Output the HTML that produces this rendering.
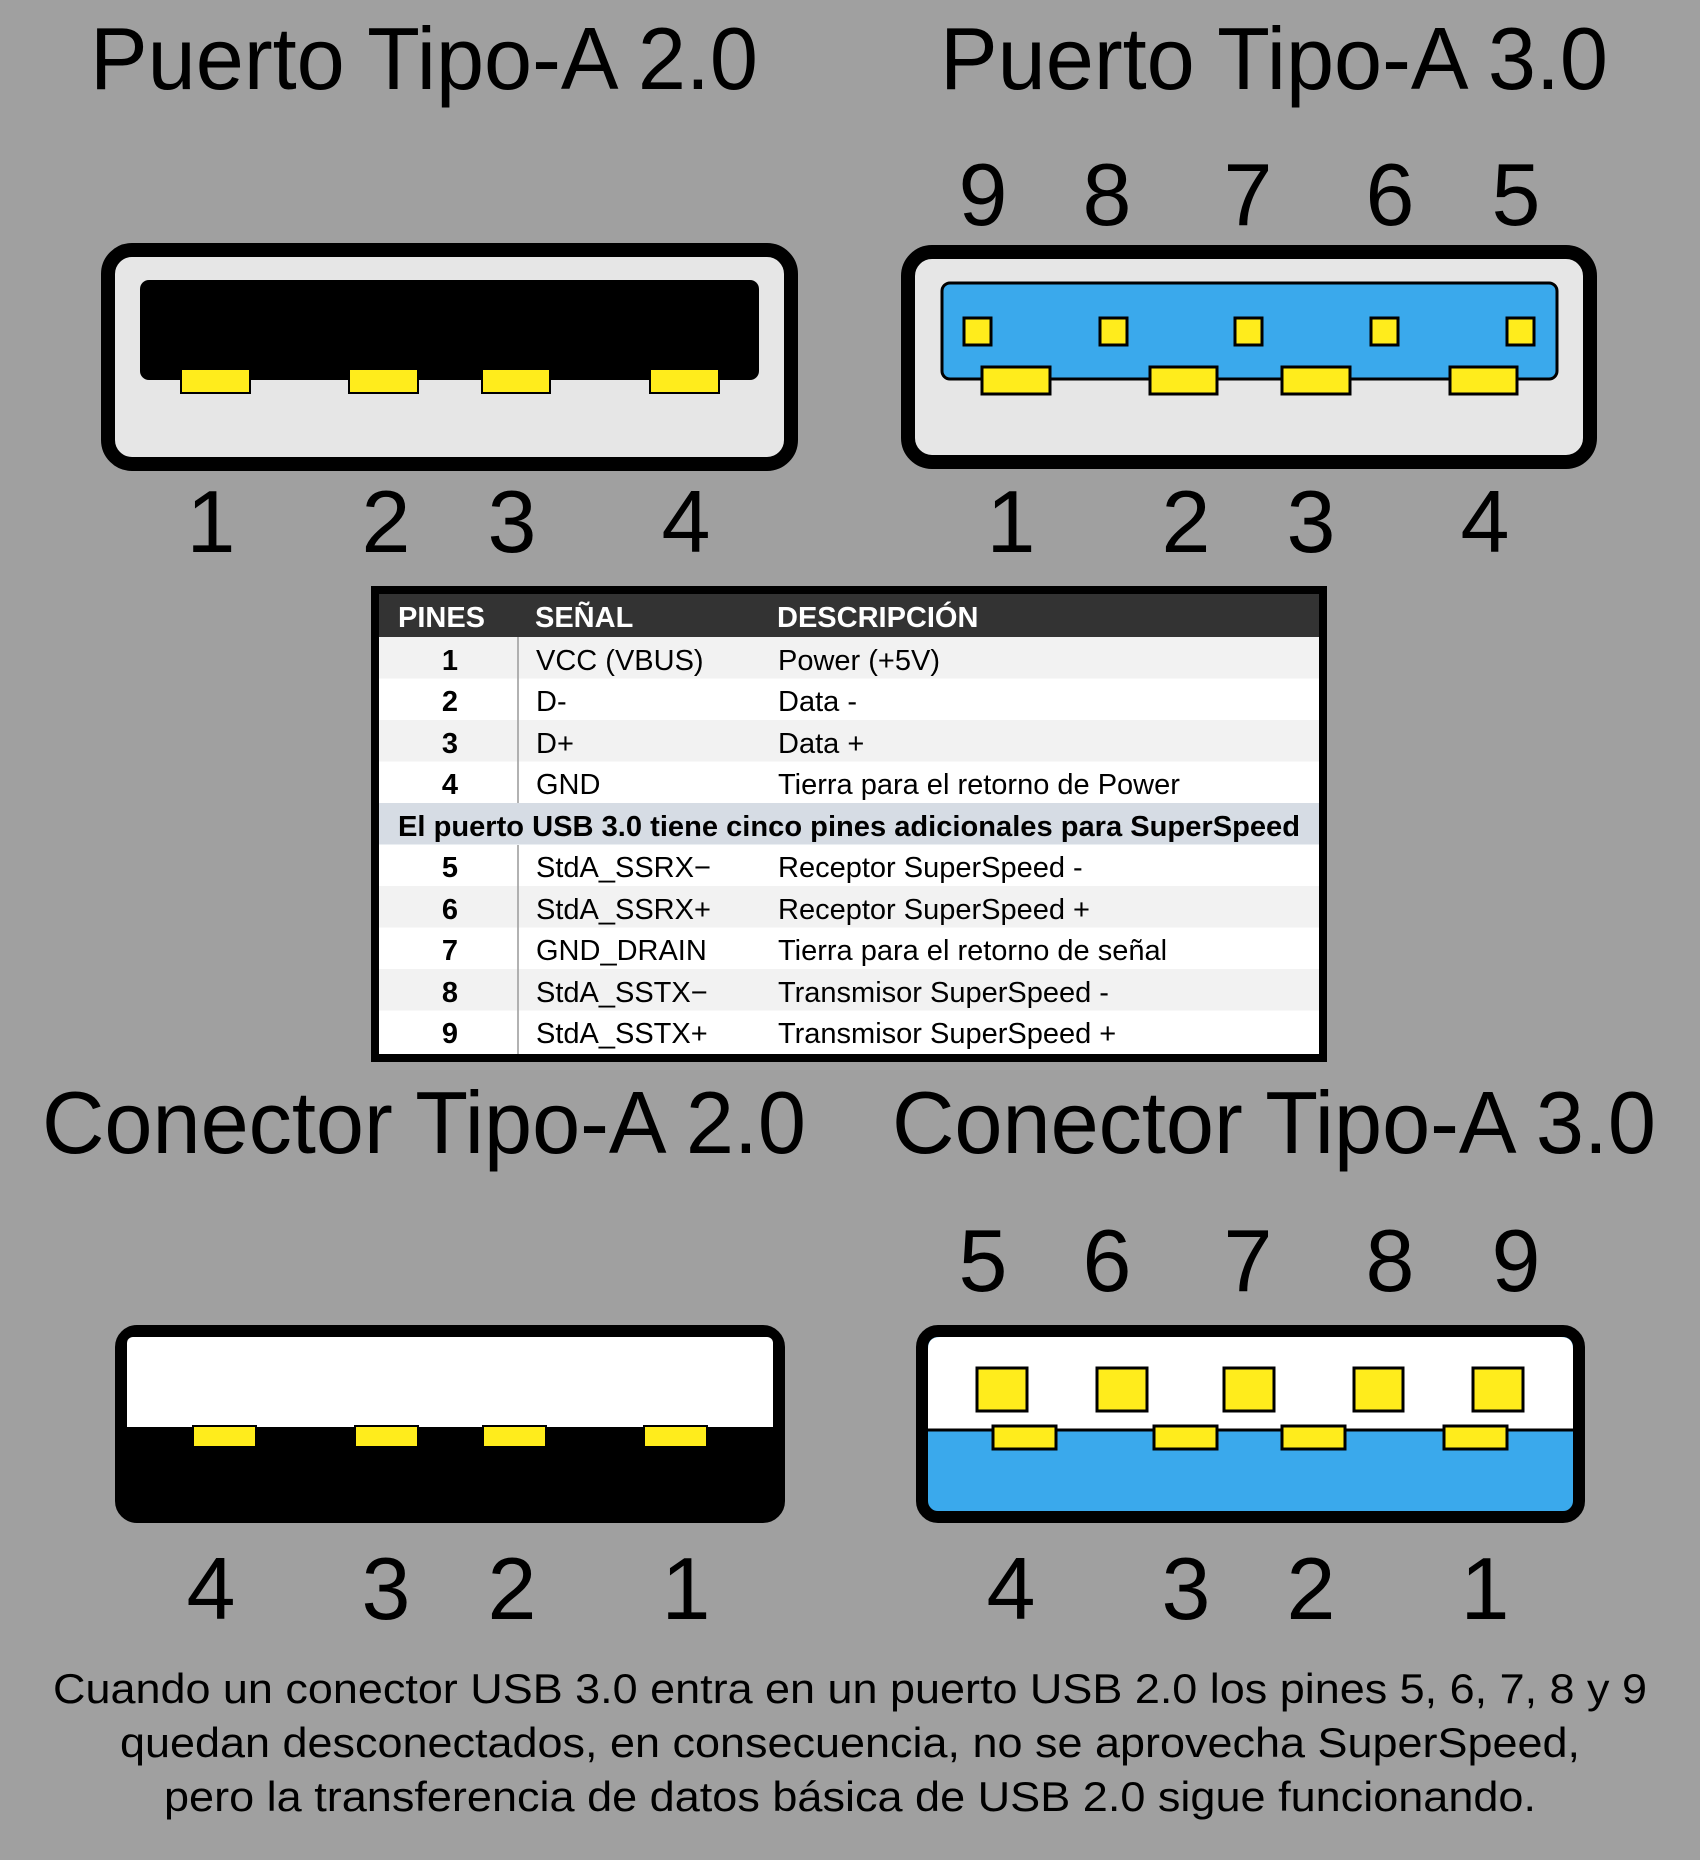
<!DOCTYPE html>
<html><head><meta charset="utf-8"><style>
html,body{margin:0;padding:0;background:#a0a0a0;}
svg{display:block;}
.t{font-family:"Liberation Sans",sans-serif;fill:#000;}
.n{font-family:"Liberation Sans Narrow","Liberation Sans",sans-serif;}
</style></head><body>
<svg width="1700" height="1860" viewBox="0 0 1700 1860">
<rect width="1700" height="1860" fill="#a0a0a0"/>
<g class="t" font-size="88" text-anchor="middle">
<text x="424" y="89" textLength="668" lengthAdjust="spacingAndGlyphs">Puerto Tipo-A 2.0</text>
<text x="1274" y="89" textLength="668" lengthAdjust="spacingAndGlyphs">Puerto Tipo-A 3.0</text>
<text x="424" y="1153" textLength="764" lengthAdjust="spacingAndGlyphs">Conector Tipo-A 2.0</text>
<text x="1274" y="1153" textLength="764" lengthAdjust="spacingAndGlyphs">Conector Tipo-A 3.0</text>
</g>

<!-- Port 2.0 -->
<g>
<rect x="108" y="250" width="683" height="214" rx="24" fill="#e6e6e6" stroke="#000" stroke-width="14"/>
<rect x="140" y="280" width="619" height="100" rx="9" fill="#000"/>
<g fill="#ffec1c" stroke="#000" stroke-width="2">
<rect x="181" y="369" width="69" height="24"/><rect x="349" y="369" width="69" height="24"/>
<rect x="482" y="369" width="68" height="24"/><rect x="650" y="369" width="69" height="24"/>
</g>
</g>
<!-- Port 3.0 -->
<g>
<rect x="908" y="252" width="682" height="210" rx="24" fill="#e6e6e6" stroke="#000" stroke-width="14"/>
<rect x="942" y="283" width="615" height="96" rx="8" fill="#3aa9ec" stroke="#000" stroke-width="3"/>
<g fill="#ffec1c" stroke="#000" stroke-width="3">
<rect x="964" y="318" width="27" height="27"/><rect x="1100" y="318" width="27" height="27"/>
<rect x="1235" y="318" width="27" height="27"/><rect x="1371" y="318" width="27" height="27"/>
<rect x="1507" y="318" width="27" height="27"/>
<rect x="982" y="367" width="68" height="27"/><rect x="1150" y="367" width="67" height="27"/>
<rect x="1282" y="367" width="68" height="27"/><rect x="1450" y="367" width="67" height="27"/>
</g>
</g>
<g class="t" font-size="88" text-anchor="middle">
<text x="211" y="552">1</text><text x="386" y="552">2</text><text x="512" y="552">3</text><text x="686" y="552">4</text>
<text x="983" y="225">9</text><text x="1107" y="225">8</text><text x="1248" y="225">7</text><text x="1390" y="225">6</text><text x="1516" y="225">5</text>
<text x="1011" y="552">1</text><text x="1186" y="552">2</text><text x="1311" y="552">3</text><text x="1485" y="552">4</text>
</g>

<!-- Table -->
<g>
<rect x="375" y="590" width="948" height="468" fill="#fff" stroke="#000" stroke-width="8"/>
<rect x="379" y="594" width="940" height="43" fill="#333"/>
<rect x="379" y="637" width="940" height="41.5" fill="#f2f2f2"/>
<rect x="379" y="720" width="940" height="41.5" fill="#f2f2f2"/>
<rect x="379" y="803" width="940" height="41.5" fill="#d6dce4"/>
<rect x="379" y="886" width="940" height="41.5" fill="#f2f2f2"/>
<rect x="379" y="969" width="940" height="41.5" fill="#f2f2f2"/>
<line x1="518" y1="637" x2="518" y2="803" stroke="#999" stroke-width="1.5"/>
<line x1="518" y1="845" x2="518" y2="1054" stroke="#999" stroke-width="1.5"/>
<g class="n" font-size="29" font-weight="bold" fill="#fff">
<text x="398" y="627">PINES</text><text x="535" y="627">SEÑAL</text><text x="777" y="627">DESCRIPCIÓN</text>
</g>
<g class="n" font-size="29" fill="#000">
<g font-weight="bold" text-anchor="middle">
<text x="450" y="670">1</text><text x="450" y="711">2</text><text x="450" y="753">3</text><text x="450" y="794">4</text>
<text x="450" y="877">5</text><text x="450" y="919">6</text><text x="450" y="960">7</text><text x="450" y="1002">8</text><text x="450" y="1043">9</text>
</g>
<text x="536" y="670">VCC (VBUS)</text><text x="778" y="670">Power (+5V)</text>
<text x="536" y="711">D-</text><text x="778" y="711">Data -</text>
<text x="536" y="753">D+</text><text x="778" y="753">Data +</text>
<text x="536" y="794">GND</text><text x="778" y="794">Tierra para el retorno de Power</text>
<text x="398" y="836" font-weight="bold" textLength="902" lengthAdjust="spacingAndGlyphs">El puerto USB 3.0 tiene cinco pines adicionales para SuperSpeed</text>
<text x="536" y="877">StdA_SSRX−</text><text x="778" y="877">Receptor SuperSpeed -</text>
<text x="536" y="919">StdA_SSRX+</text><text x="778" y="919">Receptor SuperSpeed +</text>
<text x="536" y="960">GND_DRAIN</text><text x="778" y="960">Tierra para el retorno de señal</text>
<text x="536" y="1002">StdA_SSTX−</text><text x="778" y="1002">Transmisor SuperSpeed -</text>
<text x="536" y="1043">StdA_SSTX+</text><text x="778" y="1043">Transmisor SuperSpeed +</text>
</g>
</g>

<!-- Connector 2.0 -->
<g>
<rect x="121" y="1331" width="658" height="186" rx="16" fill="#000" stroke="#000" stroke-width="12"/>
<rect x="127" y="1337" width="646" height="90" rx="6" fill="#fff"/>
<rect x="127" y="1410" width="646" height="17" fill="#fff"/>
<g fill="#ffec1c" stroke="#000" stroke-width="2">
<rect x="193" y="1426" width="63" height="21"/><rect x="355" y="1426" width="63" height="21"/>
<rect x="483" y="1426" width="63" height="21"/><rect x="644" y="1426" width="63" height="21"/>
</g>
</g>
<!-- Connector 3.0 -->
<g>
<rect x="922" y="1331" width="657" height="186" rx="16" fill="#3aa9ec" stroke="#000" stroke-width="12"/>
<path d="M928 1430 V1349 Q928 1337 940 1337 H1561 Q1573 1337 1573 1349 V1430 Z" fill="#fff"/>
<line x1="928" y1="1430" x2="1573" y2="1430" stroke="#000" stroke-width="3"/>
<g fill="#ffec1c" stroke="#000" stroke-width="3">
<rect x="977" y="1368" width="50" height="43"/><rect x="1097" y="1368" width="50" height="43"/>
<rect x="1224" y="1368" width="50" height="43"/><rect x="1354" y="1368" width="49" height="43"/>
<rect x="1473" y="1368" width="50" height="43"/>
<rect x="993" y="1426" width="63" height="23"/><rect x="1154" y="1426" width="63" height="23"/>
<rect x="1282" y="1426" width="63" height="23"/><rect x="1444" y="1426" width="63" height="23"/>
</g>
</g>
<g class="t" font-size="88" text-anchor="middle">
<text x="211" y="1619">4</text><text x="386" y="1619">3</text><text x="512" y="1619">2</text><text x="686" y="1619">1</text>
<text x="983" y="1291">5</text><text x="1107" y="1291">6</text><text x="1248" y="1291">7</text><text x="1390" y="1291">8</text><text x="1516" y="1291">9</text>
<text x="1011" y="1619">4</text><text x="1186" y="1619">3</text><text x="1311" y="1619">2</text><text x="1485" y="1619">1</text>
</g>

<g class="t" font-size="42" text-anchor="middle">
<text x="850" y="1703" textLength="1594" lengthAdjust="spacingAndGlyphs">Cuando un conector USB 3.0 entra en un puerto USB 2.0 los pines 5, 6, 7, 8 y 9</text>
<text x="850" y="1757" textLength="1460" lengthAdjust="spacingAndGlyphs">quedan desconectados, en consecuencia, no se aprovecha SuperSpeed,</text>
<text x="850" y="1811" textLength="1372" lengthAdjust="spacingAndGlyphs">pero la transferencia de datos básica de USB 2.0 sigue funcionando.</text>
</g>
</svg>
</body></html>
